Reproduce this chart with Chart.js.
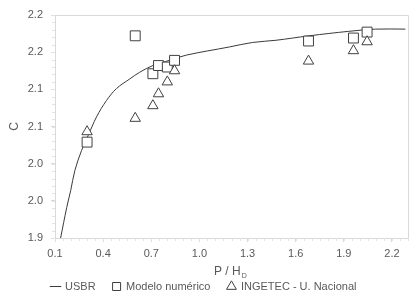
<!DOCTYPE html>
<html>
<head>
<meta charset="utf-8">
<script src="https://cdn.jsdelivr.net/npm/chart.js@4/dist/chart.umd.min.js"></script>
<style>
  html, body { margin: 0; padding: 0; background: #fff; }
  #wrap { width: 420px; height: 302px; }
</style>
</head>
<body>
<div id="wrap"><canvas id="chart" width="420" height="302"></canvas></div>
<script>
/* ─── Data ─── */
const usbrX = [0.135, 0.173, 0.198, 0.224, 0.266, 0.307, 0.359, 0.421, 0.483, 0.566, 0.628, 0.71, 0.814, 0.918, 1.187, 1.33, 1.477, 1.684, 1.93, 2.098, 2.284];
const usbrY = [1.900, 1.941, 1.964, 1.991, 2.018, 2.038, 2.063, 2.085, 2.101, 2.114, 2.123, 2.132, 2.139, 2.146, 2.157, 2.163, 2.166, 2.172, 2.178, 2.181, 2.181];

const modeloX = [0.30, 0.60, 0.71, 0.745, 0.80, 0.845, 1.68, 1.96, 2.045];
const modeloY = [2.029, 2.172, 2.121, 2.132, 2.130, 2.139, 2.165, 2.169, 2.177];

const ingetecX = [0.30, 0.60, 0.71, 0.745, 0.80, 0.845, 1.68, 1.96, 2.045];
const ingetecY = [2.043, 2.061, 2.078, 2.094, 2.110, 2.125, 2.138, 2.152, 2.164];

const xTicks = [0.1, 0.4, 0.7, 1.0, 1.3, 1.6, 1.9, 2.2];
const yTicks = [1.9, 1.95, 2.0, 2.05, 2.1, 2.15, 2.2];
const yTickLabels = ['1.9', '2.0', '2.0', '2.1', '2.1', '2.2', '2.2'];

const toPts = (xs, ys) => xs.map((x, i) => ({ x: x, y: ys[i] }));

/* ─── Frame, minor ticks + axis titles ─── */
const extras = {
  id: 'extras',
  beforeDatasetsDraw(chart) {
    const { ctx, chartArea: a, scales } = chart;
    ctx.save();
    ctx.strokeStyle = '#e3e3e3';
    ctx.lineWidth = 1;
    ctx.beginPath();
    // faint minor ticks
    for (let v = 1.9; v <= 2.2001; v += 0.01) {
      const py = Math.round(scales.y.getPixelForValue(v)) + 0.5;
      ctx.moveTo(a.left - 3, py);
      ctx.lineTo(a.left, py);
    }
    for (let v = 0.1; v <= 2.3001; v += 0.05) {
      const px = Math.round(scales.x.getPixelForValue(v)) + 0.5;
      ctx.moveTo(px, a.bottom);
      ctx.lineTo(px, a.bottom + 3);
    }
    ctx.stroke();

    ctx.strokeStyle = '#d9d9d9';
    ctx.beginPath();
    ctx.moveTo(a.left, a.top + 0.5);
    ctx.lineTo(a.right + 0.5, a.top + 0.5);
    ctx.lineTo(a.right + 0.5, a.bottom);
    ctx.stroke();
    ctx.restore();
  },
  afterDraw(chart) {
    const { ctx, chartArea: a } = chart;
    ctx.save();
    ctx.fillStyle = '#595959';
    ctx.font = '12px "Liberation Sans", Arial, sans-serif';
    ctx.textBaseline = 'middle';
    ctx.textAlign = 'left';
    const tx = 214, ty = 272;
    ctx.fillText('P / H', tx, ty);
    const w = ctx.measureText('P / H').width;
    ctx.font = '7px "Liberation Sans", Arial, sans-serif';
    ctx.fillText('D', tx + w + 1, ty + 4);

    ctx.font = '12px "Liberation Sans", Arial, sans-serif';
    ctx.translate(15, (a.top + a.bottom) / 2);
    ctx.rotate(-Math.PI / 2);
    ctx.textAlign = 'center';
    ctx.fillText('C', 0, 0);
    ctx.restore();
  }
};

Chart.defaults.font.family = '"Liberation Sans", Arial, sans-serif';
Chart.defaults.font.size = 11;
Chart.defaults.color = '#595959';

new Chart(document.getElementById('chart'), {
  type: 'scatter',
  data: {
    datasets: [
      {
        label: 'USBR',
        type: 'line',
        data: toPts(usbrX, usbrY),
        borderColor: '#3a3a3a',
        borderWidth: 1,
        pointRadius: 0,
        pointStyle: 'line',
        tension: 0.35,
        fill: false,
        order: 3
      },
      {
        label: 'Modelo numérico',
        data: toPts(modeloX, modeloY),
        pointStyle: 'rect',
        pointRadius: 7,
        borderColor: '#404040',
        backgroundColor: '#fff',
        borderWidth: 1,
        order: 2
      },
      {
        label: 'INGETEC - U. Nacional',
        data: toPts(ingetecX, ingetecY),
        pointStyle: 'triangle',
        pointRadius: 6,
        borderColor: '#404040',
        backgroundColor: '#fff',
        borderWidth: 1,
        order: 1
      }
    ]
  },
  options: {
    responsive: false,
    animation: false,
    layout: { padding: { top: 15, right: 12, left: 0, bottom: 0 } },
    plugins: {
      legend: {
        position: 'bottom',
        labels: {
          usePointStyle: true,
          boxWidth: 8,
          boxHeight: 8,
          padding: 17,
          color: '#595959',
          sort: (a, b) => a.datasetIndex - b.datasetIndex
        }
      },
      tooltip: { enabled: false }
    },
    scales: {
      x: {
        type: 'linear',
        min: 0.1,
        max: 2.3,
        afterBuildTicks: s => { s.ticks = xTicks.map(v => ({ value: v })); },
        afterFit: s => { s.height = 26; },
        border: { color: '#d9d9d9' },
        grid: { drawOnChartArea: false, color: '#d9d9d9', tickLength: 4 },
        ticks: {
          padding: 5,
          maxRotation: 0,
          callback: v => v.toFixed(1)
        }
      },
      y: {
        min: 1.9,
        max: 2.2,
        afterBuildTicks: s => { s.ticks = yTicks.map(v => ({ value: v })); },
        afterFit: s => { s.width = 55; },
        border: { color: '#d9d9d9' },
        grid: { drawOnChartArea: false, color: '#d9d9d9', tickLength: 4 },
        ticks: {
          padding: 8,
          callback: (v, i) => yTickLabels[i]
        }
      }
    }
  },
  plugins: [extras]
});
</script>
</body>
</html>
